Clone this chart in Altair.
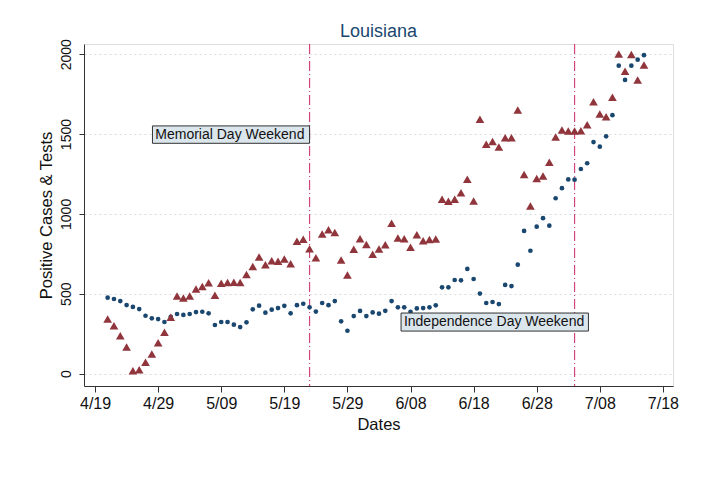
import altair as alt
import pandas as pd

# ---- data ----
start_date = "2020-04-21"
end_date = "2020-07-15"
axis_origin = "2020-04-19"

tests = [475, 467, 454, 429, 417, 404, 362, 346, 341, 323,
         355, 373, 367, 373, 385, 387, 377, 304, 323, 323, 306, 291, 321, 402, 425, 381,
         400, 410, 424, 377, 428, 437, 415, 388, 442, 428, 454, 327, 268, 360, 392,
         360, 383, 375, 393, 454, 415, 415, 387, 408, 410, 415, 427, 540, 540, 586, 584,
         655, 592, 501, 442, 448, 435, 555, 548, 682, 893, 769, 920, 973, 926,
         1098, 1161, 1216, 1214, 1281, 1317, 1450, 1421, 1486, 1618, 1928, 1839, 1928, 1966, 1994]

cases = [341, 300, 237, 166, 18, 24, 70, 122, 193, 258,
         352, 486, 473, 486, 529, 545, 569, 491, 565, 570, 572, 571, 621, 671, 730, 682,
         707, 703, 717, 688, 828, 841, 782, 725, 874, 901, 884, 711, 617, 778, 845,
         809, 747, 780, 807, 941, 849, 845, 791, 869, 832, 840, 843, 1091, 1079, 1091, 1133,
         1217, 1081, 1593, 1436, 1453, 1419, 1477, 1477, 1651, 1246, 1049, 1222, 1238, 1323,
         1482, 1526, 1519, 1519, 1521, 1559, 1703, 1626, 1609, 1730, 2002, 1893, 1998, 1839, 1933]

x_tick_days = [0, 10, 20, 30, 40, 50, 60, 70, 80, 90]
x_tick_labels = ["4/19", "4/29", "5/09", "5/19", "5/29", "6/08", "6/18", "6/28", "7/08", "7/18"]
y_ticks = [0, 500, 1000, 1500, 2000]

event_days = [34, 76]  # 5/23 and 7/04 (days after 4/19)

note_text = ["Memorial Day Weekend", "Independence Day Weekend"]
note_x0 = [9.1, 48.5]
note_x1 = [34.0, 78.2]
note_y0 = [1442, 266]
note_y1 = [1551, 379]
note_ytext = [1497, 323]

# ---- frames ----
dates = pd.date_range(start_date, end_date)
day = (dates - pd.Timestamp(axis_origin)).days
df = pd.DataFrame({"day": day, "tests": tests, "cases": cases})
rules = pd.DataFrame({"day": event_days})
notes = pd.DataFrame({"text": note_text, "x0": note_x0, "x1": note_x1,
                      "y0": note_y0, "y1": note_y1, "yt": note_ytext})
notes["xt"] = notes["x0"] + 0.45

FONT = "Liberation Sans"
label_expr = "[" + ",".join("'%s'" % s for s in x_tick_labels) + "][round(datum.value/10)]"

x_scale = alt.Scale(domain=[-1.75, 91.6], nice=False, zero=False)
y_scale = alt.Scale(domain=[-78, 2064], nice=False, zero=False)

x_axis = alt.Axis(values=x_tick_days, labelExpr=label_expr, title="Dates", grid=False,
                  tickSize=6, labelPadding=3, labelFontSize=16, titleFontSize=16.5,
                  titlePadding=5, labelFont=FONT, titleFont=FONT, labelColor="#111",
                  titleColor="#111", titleFontWeight="normal", domainColor="#333",
                  tickColor="#333", labelFlush=False)
y_axis = alt.Axis(values=y_ticks, format="d", title="Positive Cases & Tests", grid=True,
                  gridColor="#d6dbe0", gridDash=[2, 3], gridWidth=1,
                  tickSize=5, labelPadding=6, labelAngle=270, labelAlign="center",
                  labelBaseline="bottom", labelFontSize=14, titleFontSize=16.5,
                  titlePadding=5, labelFont=FONT, titleFont=FONT, labelColor="#111",
                  titleColor="#111", titleFontWeight="normal", domainColor="#333",
                  tickColor="#333")

base = alt.Chart(df)

tests_pts = base.mark_point(filled=True, shape="circle", size=22, opacity=1,
                            color="#1a476f").encode(
    x=alt.X("day:Q", scale=x_scale, axis=x_axis),
    y=alt.Y("tests:Q", scale=y_scale, axis=y_axis),
)
cases_pts = base.mark_point(filled=True, shape="triangle-up", size=75, opacity=1,
                            color="#90353b").encode(
    x=alt.X("day:Q", scale=x_scale),
    y=alt.Y("cases:Q", scale=y_scale),
)

vlines = alt.Chart(rules).mark_rule(color="#d0467c", strokeWidth=1.2,
                                    strokeDash=[10, 3, 1, 3]).encode(
    x=alt.X("day:Q", scale=x_scale),
)

boxes = alt.Chart(notes).mark_rect(fill="#dbe5ec", stroke="#333", strokeWidth=1).encode(
    x=alt.X("x0:Q", scale=x_scale), x2="x1:Q",
    y=alt.Y("y0:Q", scale=y_scale), y2="y1:Q",
)
texts = alt.Chart(notes).mark_text(align="left", baseline="middle", font=FONT,
                                   fontSize=14, color="#111").encode(
    x=alt.X("xt:Q", scale=x_scale),
    y=alt.Y("yt:Q", scale=y_scale),
    text="text:N",
)

chart = alt.layer(vlines, tests_pts, cases_pts, boxes, texts).properties(
    width=589, height=342,
    title=alt.TitleParams("Louisiana", fontSize=18, color="#1a476f", fontWeight="normal",
                          font=FONT, anchor="middle", offset=-2),
    autosize=alt.AutoSizeParams(type="none"),
    padding={"left": 76, "top": 36, "right": 40, "bottom": 80},
).configure_view(stroke=None).configure(background="white")

chart.save("out.html", embed_options={"renderer": "svg", "actions": False})
